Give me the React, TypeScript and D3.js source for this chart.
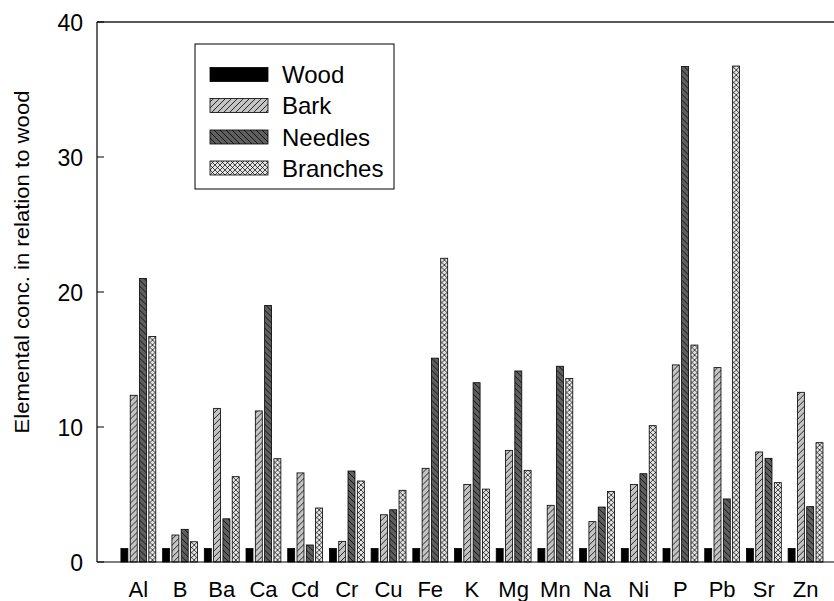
import React from "react";
import * as d3 from "d3";

const categories = ["Al", "B", "Ba", "Ca", "Cd", "Cr", "Cu", "Fe", "K", "Mg", "Mn", "Na", "Ni", "P", "Pb", "Sr", "Zn"];
const seriesNames = ["Wood", "Bark", "Needles", "Branches"];
const wood = [1, 1, 1, 1, 1, 1, 1, 1, 1, 1, 1, 1, 1, 1, 1, 1, 1];
const bark = [12.35, 2.0, 11.38, 11.19, 6.6, 1.53, 3.5, 6.94, 5.75, 8.27, 4.2, 2.99, 5.75, 14.6, 14.4, 8.15, 12.57];
const needles = [21.0, 2.42, 3.2, 19.0, 1.26, 6.74, 3.87, 15.1, 13.28, 14.15, 14.5, 4.07, 6.54, 36.7, 4.67, 7.68, 4.1];
const branches = [16.7, 1.5, 6.32, 7.65, 4.0, 6.0, 5.31, 22.5, 5.4, 6.79, 13.6, 5.23, 10.1, 16.07, 36.74, 5.88, 8.84];
const yTicks = [0, 10, 20, 30, 40];

const seriesValues = [wood, bark, needles, branches];
const fills = ["#000000", "url(#pBark)", "url(#pNeedles)", "url(#pBranches)"];

export default function App() {
  const W = 834, H = 601;
  const left = 97, top = 22, bottom = 562;
  const step = 41.7;
  const x0 = d3.scaleBand<string>().domain(categories).range([left + step / 2 - 0.35, left + step / 2 - 0.35 + step * categories.length]).padding(0);
  const groupW = 37.1;
  const x1 = d3.scaleBand<string>().domain(seriesNames)
    .range([x0.bandwidth() / 2 - groupW / 2, x0.bandwidth() / 2 + groupW / 2])
    .paddingInner(0.25).paddingOuter(0.12);
  const y = d3.scaleLinear().domain([0, 40]).range([bottom, top]);
  const font = "Arial, 'Liberation Sans', sans-serif";

  const legendRows = [74.5, 105.5, 137, 168];

  return (
    <svg width={W} height={H} style={{ position: "absolute", left: 0, top: 0, background: "#fff" }}>
      <defs>
        <pattern id="pBark" patternUnits="userSpaceOnUse" width="6" height="6">
          <rect width="6" height="6" fill="#c4c4c4" />
          <path d="M0,6 L6,0 M-1,1 L1,-1 M5,7 L7,5" stroke="#000" strokeWidth="0.8" />
        </pattern>
        <pattern id="pNeedles" patternUnits="userSpaceOnUse" width="6" height="6">
          <rect width="6" height="6" fill="#5f5f5f" />
          <path d="M0,0 L6,6 M-1,5 L1,7 M5,-1 L7,1" stroke="#000" strokeWidth="0.8" />
        </pattern>
        <pattern id="pBranches" patternUnits="userSpaceOnUse" width="5" height="5">
          <rect width="5" height="5" fill="#e4e4e4" />
          <path d="M0,0 L5,5 M0,5 L5,0" stroke="#000" strokeWidth="0.7" />
        </pattern>
      </defs>

      {/* bars */}
      {categories.map((c, i) => (
        <g key={c} transform={`translate(${x0(c)},0)`}>
          {seriesNames.map((s, j) => {
            const v = seriesValues[j][i];
            return (
              <rect key={s} x={x1(s)} y={y(v)} width={x1.bandwidth()} height={y(0) - y(v)}
                fill={fills[j]} stroke="#000" strokeWidth={0.8} />
            );
          })}
        </g>
      ))}

      {/* axes frame */}
      <line x1={left} y1={top} x2={W} y2={top} stroke="#222" strokeWidth={1.6} />
      <line x1={left} y1={top} x2={left} y2={bottom} stroke="#000" strokeWidth={1.2} />
      <line x1={left} y1={bottom} x2={W} y2={bottom} stroke="#000" strokeWidth={1.2} />

      {yTicks.map(t => (
        <g key={t}>
          <line x1={left} x2={left + 7} y1={y(t)} y2={y(t)} stroke="#000" strokeWidth={1} />
          <text x={left - 14} y={y(t) + 1} textAnchor="end" dominantBaseline="central" fontFamily={font} fontSize={23} fill="#000">{t}</text>
        </g>
      ))}

      {categories.map(c => (
        <text key={c} x={(x0(c) as number) + x0.bandwidth() / 2} y={589} textAnchor="middle" dominantBaseline="central"
          fontFamily={font} fontSize={22} fill="#000">{c}</text>
      ))}

      <text transform={`translate(22,262) rotate(-90)`} textAnchor="middle" dominantBaseline="central"
        fontFamily={font} fontSize={20} textLength={343} lengthAdjust="spacingAndGlyphs" fill="#000">Elemental conc. in relation to wood</text>

      {/* legend */}
      <rect x={195} y={44} width={199} height={145} fill="#fff" stroke="#000" strokeWidth={1} />
      {seriesNames.map((s, j) => (
        <g key={s}>
          <rect x={210} y={legendRows[j] - 7} width={58} height={14} fill={fills[j]} stroke="#000" strokeWidth={0.8} />
          <text x={282} y={legendRows[j]} dominantBaseline="central" fontFamily={font} fontSize={24} fill="#000">{s}</text>
        </g>
      ))}
    </svg>
  );
}
